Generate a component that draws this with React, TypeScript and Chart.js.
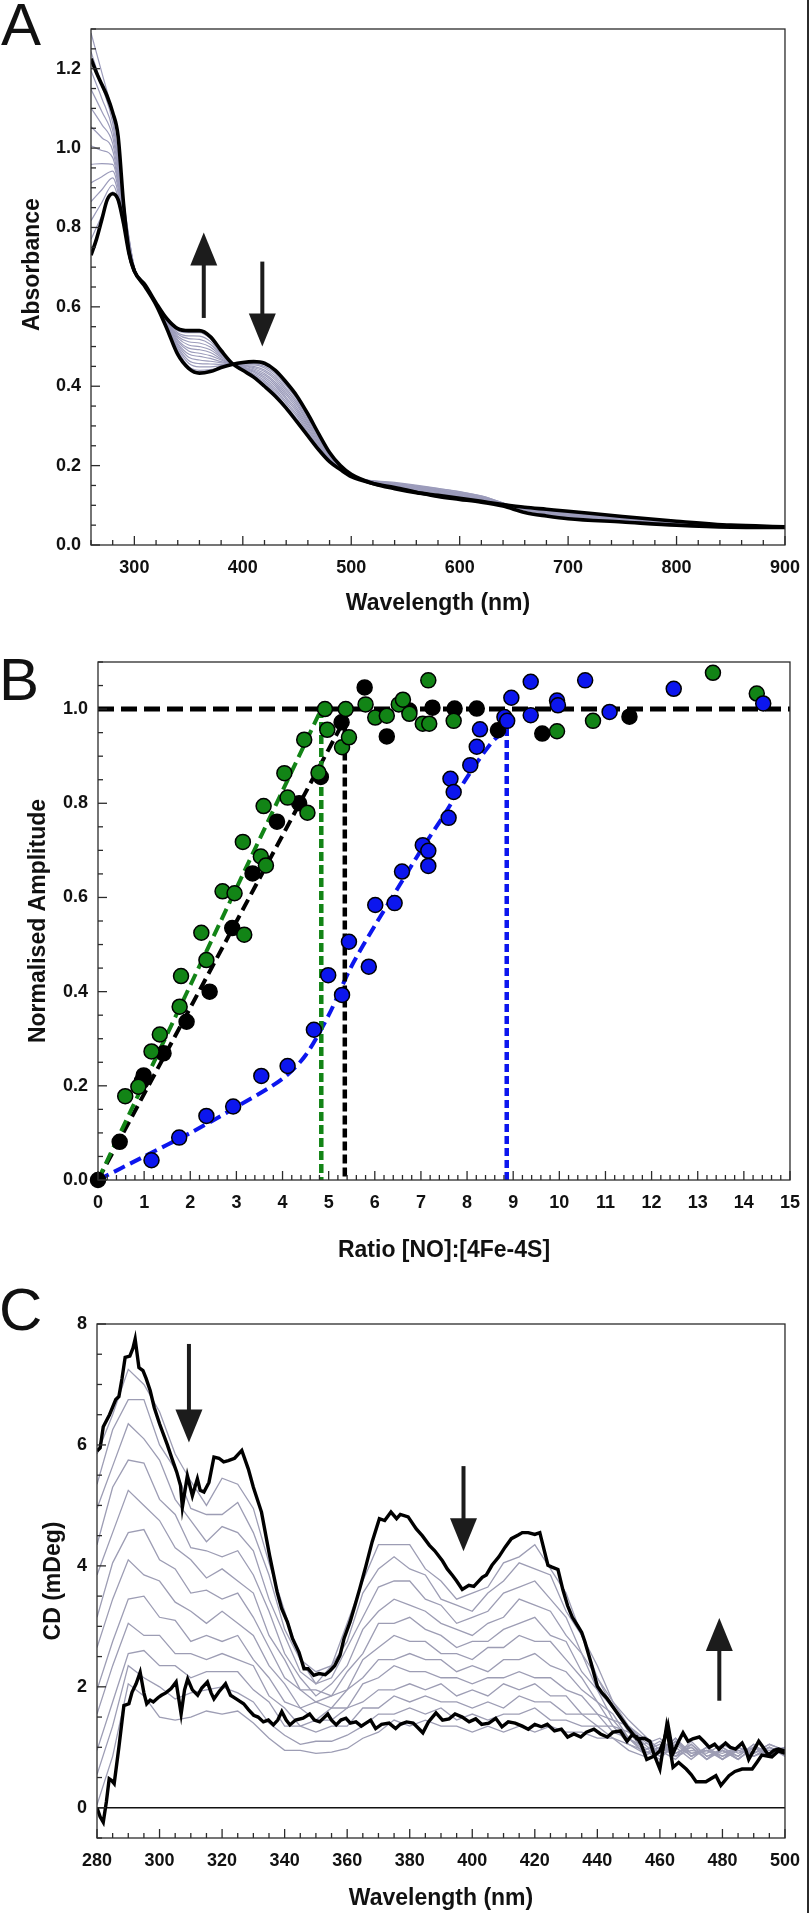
import React, { useEffect, useRef } from 'react';
import { Chart, registerables } from 'chart.js';

Chart.register(...registerables);

const FONT = '"Liberation Sans", Arial, Helvetica, sans-serif';

// ---------------- Panel A : absorbance titration ----------------
const A_WL = [260, 265, 270, 275, 280, 285, 290, 295, 300, 310, 320, 330, 340, 350, 360, 370, 380, 390, 400, 410, 420, 430, 440, 450, 460, 470, 480, 490, 500, 520, 540, 560, 580, 600, 620, 640, 660, 680, 700, 750, 800, 850, 900];
const A_INITIAL = [0.73, 0.77, 0.82, 0.87, 0.885, 0.87, 0.81, 0.735, 0.69, 0.65, 0.605, 0.545, 0.48, 0.445, 0.433, 0.437, 0.447, 0.455, 0.46, 0.462, 0.458, 0.44, 0.41, 0.375, 0.33, 0.28, 0.233, 0.2, 0.178, 0.155, 0.142, 0.132, 0.125, 0.118, 0.11, 0.102, 0.095, 0.09, 0.085, 0.072, 0.06, 0.05, 0.046];
const A_FINAL = [1.225, 1.19, 1.16, 1.13, 1.09, 1.03, 0.86, 0.74, 0.69, 0.655, 0.61, 0.57, 0.545, 0.54, 0.54, 0.525, 0.49, 0.458, 0.44, 0.423, 0.4, 0.375, 0.345, 0.31, 0.275, 0.24, 0.21, 0.19, 0.172, 0.155, 0.145, 0.133, 0.122, 0.115, 0.108, 0.098, 0.082, 0.073, 0.066, 0.058, 0.05, 0.045, 0.044];

// intermediate spectra: one row per wavelength, one column per spectrum
const A_THIN_WL = [260, 270, 280, 290, 300, 310, 320, 330, 340, 350, 360, 370, 380, 390, 400, 410, 420, 430, 440, 450, 460, 470, 480, 490, 500, 540, 580, 620, 660, 700, 800, 900];
const A_THIN = [
  [0.77, 0.817, 0.865, 0.912, 0.959, 1.006, 1.054, 1.101, 1.148, 1.195, 1.243, 1.29],
  [0.83, 0.863, 0.895, 0.928, 0.961, 0.994, 1.026, 1.059, 1.092, 1.125, 1.157, 1.19],
  [0.89, 0.907, 0.925, 0.942, 0.959, 0.976, 0.994, 1.011, 1.028, 1.045, 1.063, 1.08],
  [0.81, 0.815, 0.821, 0.826, 0.832, 0.837, 0.843, 0.848, 0.854, 0.859, 0.865, 0.87],
  [0.69, 0.691, 0.692, 0.693, 0.694, 0.695, 0.695, 0.696, 0.697, 0.698, 0.699, 0.7],
  [0.65, 0.651, 0.651, 0.652, 0.652, 0.653, 0.653, 0.654, 0.654, 0.655, 0.655, 0.656],
  [0.605, 0.605, 0.606, 0.606, 0.607, 0.607, 0.608, 0.608, 0.609, 0.609, 0.61, 0.61],
  [0.55, 0.551, 0.553, 0.554, 0.556, 0.557, 0.559, 0.56, 0.562, 0.563, 0.565, 0.566],
  [0.49, 0.495, 0.499, 0.504, 0.508, 0.513, 0.517, 0.522, 0.526, 0.531, 0.535, 0.54],
  [0.45, 0.458, 0.465, 0.473, 0.481, 0.489, 0.496, 0.504, 0.512, 0.52, 0.527, 0.535],
  [0.44, 0.449, 0.457, 0.466, 0.475, 0.483, 0.492, 0.5, 0.509, 0.518, 0.526, 0.535],
  [0.442, 0.449, 0.456, 0.463, 0.47, 0.477, 0.485, 0.492, 0.499, 0.506, 0.513, 0.52],
  [0.448, 0.452, 0.455, 0.459, 0.462, 0.466, 0.469, 0.473, 0.476, 0.48, 0.483, 0.487],
  [0.455, 0.455, 0.456, 0.456, 0.456, 0.456, 0.457, 0.457, 0.457, 0.457, 0.458, 0.458],
  [0.457, 0.456, 0.454, 0.453, 0.452, 0.451, 0.449, 0.448, 0.447, 0.446, 0.444, 0.443],
  [0.46, 0.457, 0.454, 0.45, 0.447, 0.444, 0.441, 0.438, 0.435, 0.431, 0.428, 0.425],
  [0.455, 0.45, 0.446, 0.441, 0.437, 0.432, 0.428, 0.423, 0.419, 0.414, 0.41, 0.405],
  [0.437, 0.432, 0.426, 0.421, 0.416, 0.41, 0.405, 0.4, 0.394, 0.389, 0.383, 0.378],
  [0.405, 0.4, 0.394, 0.389, 0.383, 0.378, 0.372, 0.367, 0.361, 0.356, 0.35, 0.345],
  [0.372, 0.367, 0.361, 0.356, 0.351, 0.345, 0.34, 0.335, 0.329, 0.324, 0.318, 0.313],
  [0.325, 0.32, 0.316, 0.311, 0.307, 0.302, 0.298, 0.293, 0.289, 0.284, 0.28, 0.275],
  [0.278, 0.275, 0.271, 0.268, 0.265, 0.262, 0.258, 0.255, 0.252, 0.249, 0.245, 0.242],
  [0.232, 0.23, 0.228, 0.227, 0.225, 0.223, 0.221, 0.219, 0.217, 0.216, 0.214, 0.212],
  [0.198, 0.197, 0.197, 0.196, 0.195, 0.194, 0.194, 0.193, 0.192, 0.192, 0.191, 0.19],
  [0.178, 0.177, 0.177, 0.176, 0.176, 0.175, 0.175, 0.174, 0.174, 0.173, 0.173, 0.172],
  [0.146, 0.147, 0.148, 0.149, 0.15, 0.151, 0.152, 0.153, 0.154, 0.155, 0.156, 0.158],
  [0.13, 0.131, 0.132, 0.134, 0.135, 0.136, 0.137, 0.138, 0.139, 0.14, 0.142, 0.143],
  [0.113, 0.114, 0.115, 0.116, 0.117, 0.118, 0.119, 0.12, 0.121, 0.122, 0.123, 0.124],
  [0.094, 0.093, 0.093, 0.092, 0.092, 0.091, 0.091, 0.09, 0.09, 0.089, 0.089, 0.088],
  [0.082, 0.081, 0.08, 0.079, 0.078, 0.077, 0.076, 0.075, 0.074, 0.073, 0.072, 0.07],
  [0.058, 0.058, 0.057, 0.057, 0.056, 0.056, 0.055, 0.055, 0.054, 0.054, 0.053, 0.052],
  [0.046, 0.046, 0.046, 0.046, 0.045, 0.045, 0.045, 0.045, 0.045, 0.045, 0.044, 0.044],
];
// arrows: [wavelength, tail, tip]
const A_ARROWS = [[364, 0.572, 0.787], [418, 0.714, 0.5]];

// ---------------- Panel B : titration end points ----------------
const B_BLACK = [[0, 0], [0.47, 0.081], [0.95, 0.21], [0.99, 0.222], [1.42, 0.269], [1.92, 0.336], [2.42, 0.4], [2.91, 0.535], [3.35, 0.651], [3.88, 0.761], [4.36, 0.8], [4.83, 0.856], [5.28, 0.972], [5.78, 1.046], [6.26, 0.942], [6.75, 0.997], [7.25, 1.003], [7.73, 1.001], [8.21, 1.001], [8.67, 0.955], [9.63, 0.948], [11.52, 0.984]];
const B_GREEN = [[0.59, 0.178], [0.875, 0.198], [1.16, 0.273], [1.34, 0.309], [1.77, 0.368], [1.8, 0.433], [2.35, 0.467], [2.24, 0.525], [3.17, 0.521], [2.7, 0.613], [2.96, 0.609], [3.14, 0.718], [3.53, 0.687], [3.64, 0.668], [3.59, 0.794], [4.11, 0.812], [4.04, 0.864], [4.54, 0.78], [4.47, 0.935], [4.78, 0.865], [4.97, 0.956], [4.92, 1.0], [5.29, 0.919], [5.44, 0.94], [5.37, 1.0], [5.8, 1.01], [6.01, 0.982], [6.26, 0.986], [6.52, 1.01], [6.61, 1.02], [6.75, 0.99], [7.16, 1.061], [7.04, 0.969], [7.18, 0.969], [7.71, 0.975], [9.95, 0.953], [10.73, 0.975], [13.33, 1.077], [14.28, 1.033]];
const B_BLUE = [[1.16, 0.042], [1.76, 0.09], [2.35, 0.136], [2.93, 0.156], [3.54, 0.221], [4.11, 0.242], [4.68, 0.319], [4.99, 0.435], [5.29, 0.393], [5.44, 0.506], [5.87, 0.453], [6.01, 0.584], [6.43, 0.588], [6.59, 0.655], [7.04, 0.711], [7.16, 0.699], [7.16, 0.667], [7.6, 0.769], [7.64, 0.852], [7.71, 0.824], [8.07, 0.881], [8.21, 0.92], [8.28, 0.957], [8.81, 0.983], [8.87, 0.975], [8.96, 1.024], [9.38, 1.058], [9.38, 0.987], [9.95, 1.018], [9.97, 1.008], [10.56, 1.061], [11.09, 0.994], [12.48, 1.043], [14.42, 1.012]];
const B_GREEN_FIT = [[0, 0], [4.84, 1.0]];
const B_GREEN_END = [[4.84, 1.0], [4.84, 0]];
const B_BLACK_FIT = [[0, 0], [5.33, 0.975]];
const B_BLACK_END = [[5.35, 0.965], [5.35, 0]];
const B_BLUE_FIT = [[0, 0], [1, 0.05], [2, 0.1], [3, 0.155], [4, 0.215], [4.5, 0.265], [5, 0.35], [5.5, 0.455], [6, 0.54], [6.5, 0.62], [7, 0.7], [7.5, 0.775], [8, 0.855], [8.5, 0.925], [8.86, 0.96]];
const B_BLUE_END = [[8.86, 0.96], [8.86, 0]];
const B_PLATEAU = [[0, 1.0], [15, 1.0]];

// ---------------- Panel C : CD titration ----------------
const C_INITIAL = [[280, 5.9], [281, 5.95], [282, 6.3], [284, 6.5], [286, 6.75], [287, 6.8], [288, 7.1], [289, 7.45], [290.5, 7.47], [291.5, 7.6], [292.2, 7.75], [293.4, 7.28], [294.7, 7.23], [295.7, 7.1], [297, 6.9], [298.3, 6.62], [300, 6.35], [301, 6.21], [302.5, 6.0], [304, 5.77], [305.5, 5.55], [306.7, 5.33], [307.3, 4.97], [308, 5.2], [308.9, 5.49], [310.5, 5.16], [312.1, 5.44], [313, 5.25], [314.2, 5.22], [315.8, 5.38], [317.4, 5.8], [319, 5.78], [320.5, 5.72], [322, 5.74], [324, 5.78], [326.3, 5.91], [328.4, 5.6], [330, 5.3], [332.6, 4.89], [335.2, 4.17], [337.6, 3.57], [339, 3.3], [340.9, 3.07], [342.5, 2.8], [344.6, 2.57], [346.2, 2.3], [347.5, 2.3], [349.3, 2.19], [351, 2.22], [353, 2.2], [354.6, 2.27], [356, 2.35], [357.7, 2.52], [359, 2.8], [360.9, 3.07], [362.5, 3.35], [364, 3.62], [366, 4.0], [368, 4.4], [370.3, 4.78], [372, 4.75], [374, 4.89], [375.8, 4.78], [377, 4.85], [379.5, 4.81], [382.1, 4.61], [384, 4.5], [386.3, 4.34], [388, 4.25], [390.5, 4.08], [392, 3.95], [393.7, 3.84], [395, 3.75], [396.8, 3.61], [398.9, 3.68], [400.5, 3.66], [403.2, 3.81], [404.5, 3.85], [406.3, 4.01], [408.5, 4.15], [410.5, 4.31], [412.5, 4.45], [414.7, 4.51], [416, 4.55], [417.9, 4.55], [420, 4.52], [421.6, 4.55], [424.2, 4.01], [425.5, 3.98], [427.4, 3.94], [429, 3.6], [430.5, 3.34], [432, 3.15], [433.7, 3.01], [435, 2.9], [436, 2.75], [437.9, 2.41], [440, 2.01], [441.5, 1.9], [443.2, 1.8], [446.3, 1.57], [449.5, 1.34], [452.6, 1.14], [455, 1.15], [456.8, 1.1], [458, 0.9], [460, 0.64], [462.1, 1.34], [464.2, 0.67], [466, 0.75], [468.4, 0.64], [470, 0.55], [471.6, 0.43], [474.7, 0.43], [477.9, 0.53], [479.5, 0.37], [482.1, 0.53], [484, 0.6], [486.3, 0.64], [489.5, 0.64], [491, 0.75], [492.6, 0.87], [495.8, 0.84], [497.9, 0.94], [500, 0.9]];
const C_FINAL = [[280, 0.0], [281, -0.15], [282, -0.24], [283, 0.1], [283.9, 0.48], [284.7, 0.45], [285.5, 0.4], [287, 1.0], [288.6, 1.69], [290.2, 1.72], [291.2, 1.91], [292.5, 2.05], [293.8, 2.24], [295, 1.9], [295.9, 1.72], [297, 1.78], [298, 1.75], [299.5, 1.82], [300.6, 1.86], [302, 1.9], [303.7, 1.97], [305.3, 2.08], [306.9, 1.55], [308, 1.95], [309, 2.13], [310.5, 1.95], [312.2, 1.86], [313.5, 1.98], [315.3, 2.08], [316.5, 1.9], [317.4, 1.8], [319, 1.92], [321.1, 2.05], [322.7, 1.86], [324.5, 1.8], [326.9, 1.72], [328.5, 1.62], [330.1, 1.53], [331.5, 1.5], [333.2, 1.42], [334.8, 1.45], [336.4, 1.37], [337.8, 1.45], [339.1, 1.59], [340.5, 1.45], [341.7, 1.37], [343.5, 1.45], [345.9, 1.48], [348, 1.55], [349.5, 1.45], [351.2, 1.42], [353.8, 1.55], [355, 1.45], [356.5, 1.37], [358, 1.45], [359.6, 1.48], [361, 1.4], [362.8, 1.42], [364.5, 1.35], [366, 1.4], [367.5, 1.45], [369.1, 1.31], [371, 1.38], [373.4, 1.4], [375.5, 1.31], [377, 1.38], [379, 1.42], [381.1, 1.4], [382.7, 1.32], [384.2, 1.24], [386, 1.42], [388.4, 1.57], [390.5, 1.45], [392.6, 1.47], [394.5, 1.55], [396.8, 1.5], [399, 1.42], [401.1, 1.47], [403, 1.38], [405.3, 1.4], [407.5, 1.48], [409.5, 1.34], [411.5, 1.42], [413.7, 1.4], [416, 1.35], [417.9, 1.3], [420, 1.38], [422.1, 1.34], [424, 1.38], [426.3, 1.27], [428.5, 1.3], [430.5, 1.17], [432.5, 1.22], [434.7, 1.17], [436.5, 1.25], [438.9, 1.3], [441, 1.22], [443.2, 1.17], [445, 1.25], [447.4, 1.27], [449.5, 1.1], [451, 1.2], [452.6, 1.17], [454, 1.05], [455.8, 0.8], [458, 0.85], [460, 0.94], [461.5, 1.15], [462.6, 1.37], [464.2, 0.9], [466, 1.1], [467.4, 1.24], [469, 1.1], [470.5, 1.14], [472.6, 1.17], [474, 1.1], [475.8, 1.0], [477.5, 1.05], [478.9, 0.97], [481, 1.07], [482.5, 1.0], [484.2, 0.97], [486.3, 1.07], [487.5, 0.95], [488.4, 0.8], [490, 0.95], [491.6, 1.1], [493, 1.0], [494.7, 0.87], [496.5, 0.95], [497.9, 0.97], [500, 0.94]];
const C_THIN_WL = [280, 285, 290, 295, 300, 305, 310, 315, 320, 325, 330, 335, 340, 345, 350, 355, 360, 365, 370, 375, 380, 385, 390, 395, 400, 405, 410, 415, 420, 425, 430, 435, 440, 445, 450, 455, 460, 465, 470, 475, 480, 485, 490, 495, 500];
const C_THIN = [
  [5.85, 5.35, 4.95, 4.35, 3.85, 3.15, 2.65, 1.95, 1.55, 0.95, 0.55, 0.05],
  [6.5, 6.25, 5.65, 5.3, 4.55, 4.05, 3.45, 2.75, 2.35, 1.75, 1.35, 0.85],
  [7.25, 6.75, 6.35, 5.75, 5.25, 4.55, 4.1, 3.45, 3.05, 2.55, 2.35, 2.05],
  [7.0, 6.75, 6.1, 5.7, 5.0, 4.6, 3.85, 3.5, 2.85, 2.6, 2.15, 1.85],
  [6.55, 6.0, 5.75, 5.1, 4.75, 4.1, 3.75, 3.15, 2.85, 2.35, 2.0, 1.5],
  [5.85, 5.6, 5.1, 4.85, 4.3, 3.95, 3.4, 3.1, 2.55, 2.35, 1.8, 1.45],
  [5.4, 4.95, 4.75, 4.3, 4.1, 3.55, 3.25, 2.75, 2.55, 2.15, 1.9, 1.5],
  [5.0, 4.85, 4.4, 4.25, 3.8, 3.6, 3.05, 2.85, 2.45, 2.25, 1.95, 1.6],
  [5.45, 4.85, 4.65, 4.15, 3.95, 3.45, 3.25, 2.75, 2.55, 2.25, 2.0, 1.55],
  [5.35, 5.05, 4.55, 4.25, 3.75, 3.55, 3.05, 2.85, 2.45, 2.25, 1.9, 1.6],
  [4.95, 4.55, 4.25, 3.85, 3.55, 3.15, 2.85, 2.45, 2.35, 1.95, 1.75, 1.4],
  [4.05, 3.85, 3.45, 3.25, 2.85, 2.65, 2.35, 2.15, 1.85, 1.75, 1.4, 1.15],
  [3.25, 2.95, 2.85, 2.55, 2.45, 2.15, 2.05, 1.75, 1.65, 1.35, 1.2, 0.95],
  [2.45, 2.45, 2.25, 2.15, 1.95, 1.95, 1.65, 1.65, 1.35, 1.35, 1.05, 0.95],
  [2.25, 2.05, 2.05, 1.85, 1.95, 1.75, 1.75, 1.45, 1.45, 1.25, 1.1, 0.9],
  [2.35, 2.35, 2.15, 2.05, 1.85, 1.85, 1.65, 1.65, 1.45, 1.35, 1.1, 0.92],
  [3.05, 2.75, 2.65, 2.35, 2.25, 1.95, 1.95, 1.65, 1.65, 1.35, 1.2, 0.98],
  [3.75, 3.55, 3.15, 2.95, 2.55, 2.45, 2.15, 2.05, 1.75, 1.65, 1.35, 1.15],
  [4.35, 3.95, 3.65, 3.25, 3.05, 2.65, 2.45, 2.15, 1.95, 1.65, 1.55, 1.25],
  [4.35, 4.15, 3.75, 3.45, 3.05, 2.85, 2.45, 2.35, 1.95, 1.85, 1.55, 1.45],
  [4.35, 3.95, 3.75, 3.35, 3.15, 2.75, 2.55, 2.25, 2.05, 1.75, 1.65, 1.35],
  [3.95, 3.85, 3.45, 3.25, 2.95, 2.75, 2.45, 2.25, 1.95, 1.85, 1.55, 1.45],
  [3.75, 3.45, 3.35, 3.05, 2.85, 2.55, 2.45, 2.15, 2.05, 1.75, 1.65, 1.35],
  [3.45, 3.35, 3.05, 2.95, 2.65, 2.55, 2.25, 2.15, 1.85, 1.75, 1.45, 1.35],
  [3.55, 3.25, 3.15, 2.85, 2.75, 2.45, 2.35, 2.05, 1.95, 1.65, 1.55, 1.25],
  [3.65, 3.55, 3.25, 3.05, 2.75, 2.65, 2.25, 2.15, 1.85, 1.75, 1.45, 1.35],
  [4.05, 3.75, 3.55, 3.15, 2.95, 2.65, 2.45, 2.15, 2.05, 1.65, 1.55, 1.25],
  [4.15, 4.05, 3.65, 3.45, 3.05, 2.85, 2.45, 2.25, 1.95, 1.85, 1.55, 1.35],
  [4.35, 3.95, 3.75, 3.35, 3.15, 2.75, 2.55, 2.15, 2.05, 1.75, 1.65, 1.25],
  [3.95, 3.85, 3.45, 3.25, 2.85, 2.75, 2.35, 2.15, 1.85, 1.75, 1.45, 1.35],
  [3.55, 3.25, 3.15, 2.85, 2.75, 2.45, 2.25, 1.95, 1.85, 1.55, 1.45, 1.25],
  [2.85, 2.85, 2.55, 2.55, 2.25, 2.15, 1.95, 1.85, 1.55, 1.55, 1.35, 1.25],
  [2.35, 2.15, 2.15, 1.95, 1.95, 1.75, 1.75, 1.55, 1.55, 1.35, 1.35, 1.15],
  [1.75, 1.75, 1.65, 1.65, 1.45, 1.55, 1.35, 1.45, 1.25, 1.35, 1.15, 1.15],
  [1.45, 1.35, 1.35, 1.25, 1.35, 1.15, 1.25, 1.15, 1.15, 1.05, 1.05, 0.95],
  [1.2, 1.05, 1.15, 0.95, 1.1, 0.95, 1.05, 0.9, 1.0, 0.9, 0.95, 0.85],
  [0.95, 1.15, 0.9, 1.1, 0.9, 1.05, 0.85, 1.0, 0.85, 0.95, 0.8, 1.0],
  [1.15, 0.9, 1.1, 0.85, 1.15, 0.85, 1.05, 0.9, 1.0, 0.8, 1.1, 0.85],
  [0.85, 1.05, 0.85, 1.0, 0.9, 1.1, 0.85, 1.0, 0.8, 1.05, 0.9, 0.95],
  [1.0, 0.85, 1.0, 0.8, 0.95, 0.85, 0.95, 0.8, 1.0, 0.8, 0.95, 0.9],
  [0.8, 0.95, 0.85, 1.0, 0.8, 0.95, 0.9, 1.0, 0.8, 0.95, 0.85, 1.05],
  [1.0, 0.85, 0.95, 0.8, 1.0, 0.8, 1.0, 0.85, 0.95, 0.8, 1.0, 0.9],
  [0.9, 1.05, 0.85, 1.0, 0.9, 1.0, 0.85, 1.05, 0.9, 1.0, 0.85, 1.0],
  [1.05, 0.85, 1.0, 0.85, 1.0, 0.9, 0.95, 0.85, 1.05, 0.85, 1.0, 0.95],
  [0.95, 1.0, 0.9, 1.0, 0.85, 1.0, 0.9, 1.0, 0.95, 1.0, 0.9, 1.0],
];
const C_ZERO = [[280, 0], [500, 0]];
const C_ARROWS = [[309.4, 7.67, 6.04], [397.2, 5.65, 4.24], [479, 1.77, 3.14]];

// ---------------- helpers ----------------
const pts = (arr: number[][]) => arr.map(([x, y]) => ({ x, y }));
const zip = (xs: number[], ys: number[]) => {
  const n = Math.min(xs.length, ys.length);
  const out: { x: number; y: number }[] = [];
  for (let i = 0; i < n; i++) out.push({ x: xs[i], y: ys[i] });
  return out;
};
const column = (wl: number[], rows: number[][], k: number) => {
  const n = Math.min(wl.length, rows.length);
  const out: { x: number; y: number }[] = [];
  for (let i = 0; i < n; i++) out.push({ x: wl[i], y: rows[i][k] });
  return out;
};

const decorPlugin = {
  id: 'decor',
  afterDatasetsDraw(chart: any, _args: any, opts: any) {
    const { ctx, chartArea: a, scales } = chart;
    const xs = scales.x;
    const ys = scales.y;
    ctx.save();
    // arrows
    ctx.fillStyle = '#1c1c1c';
    ctx.strokeStyle = '#1c1c1c';
    for (const ar of opts.arrows || []) {
      const px = xs.getPixelForValue(ar[0]);
      const p0 = ys.getPixelForValue(ar[1]);
      const p1 = ys.getPixelForValue(ar[2]);
      const dir = p1 > p0 ? 1 : -1;
      const hl = 33;
      const hw = 13.5;
      ctx.lineWidth = 4;
      ctx.lineCap = 'butt';
      ctx.beginPath();
      ctx.moveTo(px, p0);
      ctx.lineTo(px, p1 - dir * (hl - 2));
      ctx.stroke();
      ctx.beginPath();
      ctx.moveTo(px, p1);
      ctx.lineTo(px - hw, p1 - dir * hl);
      ctx.lineTo(px + hw, p1 - dir * hl);
      ctx.closePath();
      ctx.fill();
    }
    // frame
    ctx.strokeStyle = '#2b2b2b';
    ctx.lineWidth = 1.3;
    ctx.strokeRect(a.left, a.top, a.right - a.left, a.bottom - a.top);
    // inner tick marks
    const drawTicks = (scale: any, major: number, minor: number, horiz: boolean) => {
      const n = Math.round((scale.max - scale.min) / minor);
      for (let i = 0; i <= n; i++) {
        const v = scale.min + i * minor;
        const r = v / major;
        const isMajor = Math.abs(r - Math.round(r)) < 1e-6;
        const len = isMajor ? 9 : 5;
        const p = scale.getPixelForValue(v);
        ctx.beginPath();
        if (horiz) {
          ctx.moveTo(p, a.bottom);
          ctx.lineTo(p, a.bottom - len);
        } else {
          ctx.moveTo(a.left, p);
          ctx.lineTo(a.left + len, p);
        }
        ctx.stroke();
      }
    };
    drawTicks(xs, opts.xMajor, opts.xMinor, true);
    drawTicks(ys, opts.yMajor, opts.yMinor, false);
    // panel letter
    ctx.fillStyle = '#111';
    ctx.font = '60px ' + FONT;
    ctx.textAlign = 'left';
    ctx.textBaseline = 'alphabetic';
    ctx.fillText(opts.letter, opts.letterX, opts.letterY);
    ctx.restore();
  },
};

const tickFont = { family: FONT, size: 18, weight: 'bold' as const };
const titleFont = { family: FONT, size: 23, weight: 'bold' as const };

function xAxis(min: number, max: number, step: number, text: string, height: number, titleBottom: number, fmt: (v: number) => string) {
  return {
    type: 'linear',
    position: 'bottom',
    min,
    max,
    grid: { display: false, drawTicks: false },
    border: { display: false },
    ticks: { stepSize: step, includeBounds: false, autoSkip: false, maxRotation: 0, padding: 12, color: '#111', font: tickFont, callback: (v: any) => fmt(Number(v)) },
    title: { display: true, text, color: '#111', font: titleFont, padding: { top: 0, bottom: titleBottom } },
    afterFit: (s: any) => { s.height = height; },
  };
}
function yAxis(min: number, max: number, step: number, text: string, width: number, titleTop: number, fmt: (v: number) => string) {
  return {
    type: 'linear',
    position: 'left',
    min,
    max,
    grid: { display: false, drawTicks: false },
    border: { display: false },
    ticks: { stepSize: step, includeBounds: false, autoSkip: false, padding: 10, color: '#111', font: tickFont, callback: (v: any) => fmt(Number(v)) },
    title: { display: true, text, color: '#111', font: titleFont, padding: { top: titleTop, bottom: 0 } },
    afterFit: (s: any) => { s.width = width; },
  };
}

const baseOpts = (layoutPad: any, scales: any, decor: any) => ({
  responsive: false,
  maintainAspectRatio: false,
  animation: false,
  events: [],
  layout: { padding: layoutPad },
  plugins: { legend: { display: false }, tooltip: { enabled: false }, decor },
  scales,
});

function buildA() {
  const thin = A_THIN[0].map((_, k) => ({
    data: column(A_THIN_WL, A_THIN, k),
    borderColor: '#9c9cbb',
    borderWidth: 1.2,
    pointRadius: 0,
    cubicInterpolationMode: 'monotone',
    order: 3,
  }));
  return {
    type: 'line',
    data: {
      datasets: [
        ...thin,
        { data: zip(A_WL, A_INITIAL), borderColor: '#000', borderWidth: 3.6, pointRadius: 0, cubicInterpolationMode: 'monotone', order: 1 },
        { data: zip(A_WL, A_FINAL), borderColor: '#000', borderWidth: 3.6, pointRadius: 0, cubicInterpolationMode: 'monotone', order: 1 },
      ],
    },
    options: baseOpts(
      { left: 0, right: 27, top: 29, bottom: 0 },
      {
        x: xAxis(260, 900, 100, 'Wavelength (nm)', 75, 3, (v) => String(v)),
        y: yAxis(0, 1.3, 0.2, '       Absorbance', 91, 19, (v) => v.toFixed(1)),
      },
      { arrows: A_ARROWS, xMajor: 100, xMinor: 20, yMajor: 0.2, yMinor: 0.05, letter: 'A', letterX: 1, letterY: 45 }
    ),
    plugins: [decorPlugin],
  };
}

function buildB() {
  const GREEN = 'rgb(18,132,22)';
  const BLUE = 'rgb(12,22,238)';
  const line = (arr: number[][], color: string, width: number, dash: number[], tension = 0) => ({
    data: pts(arr), borderColor: color, borderWidth: width, borderDash: dash, pointRadius: 0, tension, order: 5, borderCapStyle: 'butt',
  });
  const dots = (arr: number[][], color: string, order: number) => ({
    data: pts(arr), showLine: false, pointRadius: 7.5, pointBackgroundColor: color, pointBorderColor: '#000', pointBorderWidth: 1.5, order, clip: false,
  });
  return {
    type: 'line',
    data: {
      datasets: [
        line(B_PLATEAU, '#000', 5, [16, 7]),
        line(B_GREEN_FIT, GREEN, 4, [12, 6]),
        line(B_GREEN_END, GREEN, 4.5, [9, 4]),
        line(B_BLACK_FIT, '#000', 4, [12, 6]),
        line(B_BLACK_END, '#000', 4.5, [9, 4]),
        line(B_BLUE_FIT, BLUE, 4, [12, 6], 0.3),
        line(B_BLUE_END, BLUE, 4.5, [8, 4]),
        dots(B_BLACK, '#000', 3),
        dots(B_GREEN, GREEN, 2),
        dots(B_BLUE, BLUE, 1),
      ],
    },
    options: baseOpts(
      { left: 0, right: 18, top: 42, bottom: 0 },
      {
        x: xAxis(0, 15, 1, 'Ratio [NO]:[4Fe-4S]', 90, 6, (v) => String(Math.round(v))),
        y: yAxis(0, 1.1, 0.2, 'Normalised Amplitude', 98, 25, (v) => v.toFixed(1)),
      },
      { arrows: [], xMajor: 1, xMinor: 0.2, yMajor: 0.2, yMinor: 0.05, letter: 'B', letterX: -1, letterY: 80 }
    ),
    plugins: [decorPlugin],
  };
}

function buildC() {
  const thin = C_THIN[0].map((_, k) => ({
    data: column(C_THIN_WL, C_THIN, k),
    borderColor: '#9d9db4',
    borderWidth: 1.3,
    pointRadius: 0,
    tension: 0,
    order: 4,
  }));
  return {
    type: 'line',
    data: {
      datasets: [
        ...thin,
        { data: pts(C_ZERO), borderColor: '#111', borderWidth: 1.6, pointRadius: 0, order: 3 },
        { data: pts(C_INITIAL), borderColor: '#000', borderWidth: 3.4, pointRadius: 0, tension: 0, order: 1 },
        { data: pts(C_FINAL), borderColor: '#000', borderWidth: 3.4, pointRadius: 0, tension: 0, order: 1 },
      ],
    },
    options: baseOpts(
      { left: 0, right: 17, top: 54, bottom: 0 },
      {
        x: xAxis(280, 500, 20, 'Wavelength (nm)', 75, 1, (v) => String(v)),
        y: yAxis(-0.5, 8, 2, 'CD (mDeg)', 97, 40, (v) => String(v)),
      },
      { arrows: C_ARROWS, xMajor: 20, xMinor: 5, yMajor: 2, yMinor: 0.5, letter: 'C', letterX: -1, letterY: 60 }
    ),
    plugins: [decorPlugin],
  };
}

function Panel({ top, height, build }: { top: number; height: number; build: () => any }) {
  const ref = useRef<HTMLCanvasElement>(null);
  useEffect(() => {
    if (!ref.current) return;
    const chart = new Chart(ref.current, build());
    return () => chart.destroy();
  }, []);
  return (
    <div style={{ position: 'absolute', left: 0, top, width: 812, height }}>
      <canvas ref={ref} width={812} height={height} style={{ width: 812, height, display: 'block' }} />
    </div>
  );
}

export default function App() {
  return (
    <div style={{ position: 'absolute', left: 0, top: 0, width: 812, height: 1913, background: '#fff', overflow: 'hidden' }}>
      <Panel top={0} height={620} build={buildA} />
      <Panel top={620} height={650} build={buildB} />
      <Panel top={1270} height={643} build={buildC} />
      <div style={{ position: 'absolute', left: 807, top: 0, width: 2, height: 1913, background: '#2b2b2b' }} />
    </div>
  );
}
